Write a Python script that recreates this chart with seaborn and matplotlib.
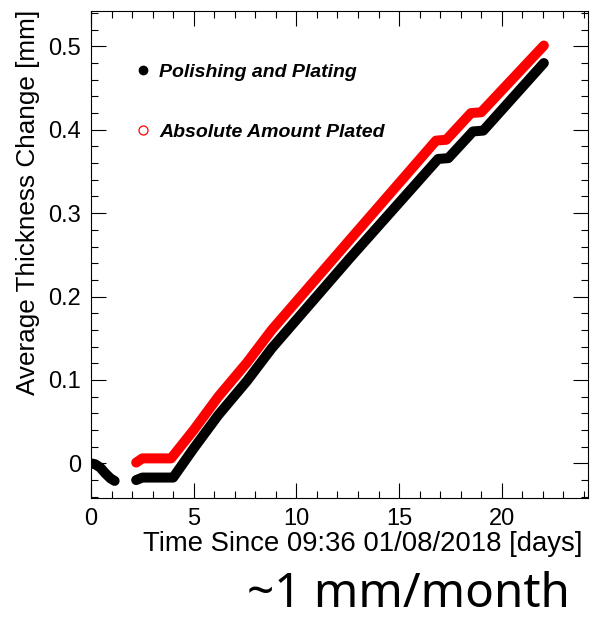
import matplotlib
matplotlib.use("Agg")
import matplotlib.pyplot as plt
import seaborn as sns
import pandas as pd
from matplotlib.lines import Line2D
from matplotlib.ticker import MultipleLocator, FixedLocator

# ---------------- data ----------------
# Polishing and Plating (black), two measurement periods
polish_days_1 = [0.0, 0.2, 0.45, 0.7, 0.95, 1.15]
polish_mm_1 = [0.000, -0.001, -0.005, -0.012, -0.018, -0.021]
polish_days_2 = [2.2, 2.5, 4.0, 5.0, 6.2, 7.6, 8.8, 12.6, 16.9, 17.4, 18.6, 19.1, 22.05]
polish_mm_2 = [-0.020, -0.017, -0.017, 0.018, 0.058, 0.099, 0.138, 0.246, 0.365, 0.366, 0.398, 0.399, 0.480]

# Absolute Amount Plated (red)
plated_days = [2.2, 2.5, 3.9, 5.0, 6.2, 7.6, 8.8, 12.6, 16.8, 17.3, 18.5, 19.0, 22.05]
plated_mm = [0.001, 0.006, 0.006, 0.040, 0.080, 0.121, 0.160, 0.268, 0.387, 0.388, 0.420, 0.421, 0.501]

series_labels = ["Polishing and Plating", "Absolute Amount Plated"]
x_ticks = [0, 5, 10, 15, 20]
x_tick_labels = ["0", "5", "10", "15", "20"]
y_ticks = [0.0, 0.1, 0.2, 0.3, 0.4, 0.5]
y_tick_labels = ["0", "0.1", "0.2", "0.3", "0.4", "0.5"]
x_title = "Time Since 09:36 01/08/2018 [days]"
y_title = "Average Thickness Change [mm]"
note = "~1 mm/month"

# ---------------- tables ----------------
polish_df = pd.DataFrame({
    "days": polish_days_1 + polish_days_2,
    "mm": polish_mm_1 + polish_mm_2,
    "seg": [1] * len(polish_days_1) + [2] * len(polish_days_2),
})
plated_df = pd.DataFrame({"days": plated_days, "mm": plated_mm, "seg": [1] * len(plated_days)})

# ---------------- style ----------------
sns.set_style("ticks")
plt.rcParams["font.family"] = ["Liberation Sans", "DejaVu Sans"]
plt.rcParams.update({"text.color": "black", "axes.labelcolor": "black",
                     "xtick.color": "black", "ytick.color": "black",
                     "axes.edgecolor": "black"})

W, H = 592, 620
fig = plt.figure(figsize=(W / 100, H / 100), dpi=100)
ax = fig.add_axes([91 / W, 1 - 498 / H, 497 / W, 487 / H])

line_kw = dict(estimator=None, sort=False, lw=7.2, solid_capstyle="round",
               solid_joinstyle="round", legend=False, ax=ax)
sns.lineplot(data=plated_df, x="days", y="mm", units="seg", color="#ff0000", **line_kw)
sns.lineplot(data=polish_df, x="days", y="mm", units="seg", color="black", **line_kw)

ax.set_xlim(0, 24.2)
ax.set_ylim(-0.0415, 0.5424)

ax.xaxis.set_major_locator(FixedLocator(x_ticks))
ax.set_xticklabels(x_tick_labels)
ax.xaxis.set_minor_locator(MultipleLocator(1))
ax.yaxis.set_major_locator(FixedLocator(y_ticks))
ax.set_yticklabels(y_tick_labels)
ax.yaxis.set_minor_locator(MultipleLocator(0.02))

ax.tick_params(which="both", direction="in", top=True, right=True, width=0.8,
               color="black", labelcolor="black")
ax.tick_params(which="major", length=10.5, labelsize=17, pad=7)
ax.tick_params(which="minor", length=5)
for s in ax.spines.values():
    s.set_linewidth(0.8)
    s.set_color("black")

ax.set_xlabel(x_title, fontsize=19.8, loc="right", color="black")
ax.xaxis.set_label_coords(0.988, -0.068)
ax.set_ylabel(y_title, fontsize=18.8, loc="top", color="black")
ax.yaxis.set_label_coords(-0.103, 1.002)

handles = [
    Line2D([], [], ls="none", marker="o", markersize=6.0, color="black"),
    Line2D([], [], ls="none", marker="o", markersize=6.5, markerfacecolor="none",
           markeredgecolor="#ff0000", markeredgewidth=0.9),
]
leg = ax.legend(handles, series_labels, loc="upper left", bbox_to_anchor=(0.085, 0.893),
                frameon=False, handlelength=1.0, handletextpad=0.35, labelspacing=2.2,
                borderpad=0, borderaxespad=0,
                prop={"family": "Liberation Sans", "weight": "bold", "style": "italic", "size": 14.0})
for t in leg.get_texts():
    t.set_color("black")

fig.text(570 / W, 1 - 607 / H, note, ha="right", va="baseline", color="black",
         family=["Noto Sans", "DejaVu Sans"], fontsize=34.3)

fig.savefig("out.png", dpi=100)
